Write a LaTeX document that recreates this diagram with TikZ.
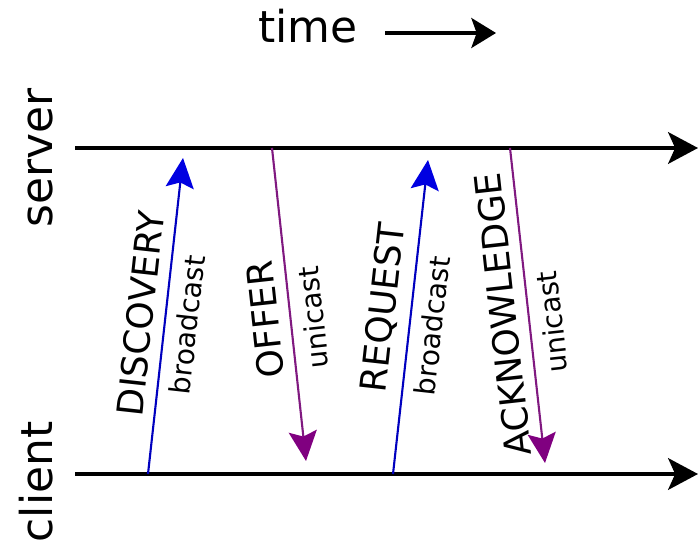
\documentclass[tikz,border=0pt]{standalone}
\usepackage{fontspec}
\setmainfont{DejaVu Sans}
\usepackage{xcolor}
\usetikzlibrary{arrows.meta}

\definecolor{bcastblue}{RGB}{0,0,225}
\definecolor{ucastpurple}{RGB}{128,0,128}

\begin{document}
\begin{tikzpicture}[x=0.02cm,y=-0.02cm,
	axis/.style={line width=2.1pt,-{Stealth[length=17pt,width=18pt,inset=4pt]}},
	bcast/.style={draw=bcastblue!85!black,line width=1.2pt,-{Stealth[length=17pt,width=16pt,inset=3pt,color=bcastblue]}},
	ucast/.style={draw=ucastpurple!80!gray,line width=1.2pt,{Stealth[length=17pt,width=16pt,inset=3pt,color=ucastpurple]}-},
	big/.style={font=\fontsize{25}{30}\selectfont},
	msg/.style={sloped,allow upside down,above=5pt,inner sep=1pt,font=\fontsize{20.5}{24}\selectfont},
	kind/.style={sloped,allow upside down,below=5pt,inner sep=1pt,font=\fontsize{16}{19}\selectfont}]
	\useasboundingbox (0,0) rectangle (699,560);
	% titles
	\node[big,anchor=base] (time) at (308,43) {time};
	\node[big,anchor=base,rotate=90] (server) at (52,158) {server};
	\node[big,anchor=base,rotate=90] (client) at (52,482) {client};
	\coordinate (t0) at (385,33);
	\coordinate (t1) at (496,33);
	\draw[line width=2.1pt,-{Stealth[length=14pt,width=17pt,inset=3pt]}] (t0) -- (t1);
	% time lines
	\coordinate (srv0) at (75,148);
	\coordinate (srv1) at (698,148);
	\coordinate (cli0) at (75,474);
	\coordinate (cli1) at (698,474);
	\draw[axis] (srv0) -- (srv1);
	\draw[axis] (cli0) -- (cli1);
	% messages
	\coordinate (d0) at (148,474);
	\coordinate (d1) at (183,158);
	\coordinate (o0) at (272,148);
	\coordinate (o1) at (306,461);
	\coordinate (r0) at (393,474);
	\coordinate (r1) at (428,160);
	\coordinate (a0) at (510,148);
	\coordinate (a1) at (545,463);
	\draw[bcast] (d0) -- (d1)
		node[msg,pos=0.5] (discover) {DISCOVERY}
		node[kind,pos=0.48] (dcast) {broadcast};
	\draw[ucast] (o1) -- (o0)
		node[msg,pos=0.46] (offer) {OFFER}
		node[kind,pos=0.45] (ocast) {unicast};
	\draw[bcast] (r0) -- (r1)
		node[msg,pos=0.52] (request) {REQUEST}
		node[kind,pos=0.48] (rcast) {broadcast};
	\draw[ucast] (a1) -- (a0)
		node[msg,pos=0.48] (ack) {ACKNOWLEDGE}
		node[kind,pos=0.44] (acast) {unicast};
\end{tikzpicture}
\end{document}
